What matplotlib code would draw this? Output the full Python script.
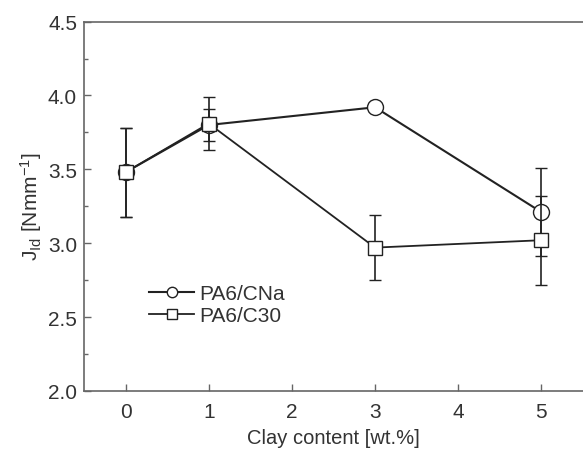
import matplotlib
matplotlib.use('Agg')
import matplotlib.pyplot as plt
from matplotlib.ticker import MultipleLocator

plt.rcParams['font.family'] = ['Liberation Sans', 'DejaVu Sans']
plt.rcParams['mathtext.fontset'] = 'custom'
plt.rcParams['mathtext.rm'] = 'Liberation Sans'
plt.rcParams['mathtext.it'] = 'Liberation Sans'

# data
clay = [0, 1, 3, 5]
cna_mean = [3.48, 3.80, 3.92, 3.21]
cna_err = [0.30, 0.11, 0.0, 0.30]
c30_mean = [3.48, 3.81, 2.97, 3.02]
c30_err = [0.30, 0.18, 0.22, 0.30]

text_col = '#333333'
line_col = '#222222'
spine_col = '#666666'

fig = plt.figure(figsize=(5.83, 4.52), dpi=100)
ax = fig.add_axes([0.144, 0.133, 0.856, 0.817])

ax.errorbar(clay, cna_mean, yerr=cna_err, color=line_col, lw=1.5, marker='o', ms=11.5,
            mfc='white', mec=line_col, mew=1.0, capsize=4, elinewidth=1.2, capthick=1.2,
            label='PA6/CNa', zorder=3)
ax.errorbar(clay, c30_mean, yerr=c30_err, color=line_col, lw=1.3, marker='s', ms=10,
            mfc='white', mec=line_col, mew=1.0, capsize=4, elinewidth=1.2, capthick=1.2,
            label='PA6/C30', zorder=4)

ax.set_xlim(-0.5, 5.5)
ax.set_ylim(2.0, 4.5)
ax.xaxis.set_major_locator(MultipleLocator(1))
ax.yaxis.set_major_locator(MultipleLocator(0.5))
ax.yaxis.set_minor_locator(MultipleLocator(0.25))
ax.yaxis.set_major_formatter(plt.FormatStrFormatter('%.1f'))
ax.tick_params(direction='in', which='both', labelsize=15, colors=spine_col,
               labelcolor=text_col, width=1.0)
ax.tick_params(which='major', length=5)
ax.tick_params(which='minor', length=3)
ax.tick_params(axis='y', pad=5)
ax.tick_params(axis='x', pad=8)

for side in ['left', 'bottom', 'top']:
    ax.spines[side].set_color(spine_col)
    ax.spines[side].set_linewidth(1.2)
ax.spines['right'].set_visible(False)

ax.set_xlabel('Clay content [wt.%]', fontsize=14.5, color=text_col, labelpad=5)
ax.set_ylabel(r'J$_{\mathrm{Id}}$ [Nmm$^{-1}$]', fontsize=15, color=text_col, labelpad=3)

handles, labels = ax.get_legend_handles_labels()
handles = [h[0] for h in handles]
leg = ax.legend(handles, labels, loc='upper left', bbox_to_anchor=(0.092, 0.34),
                frameon=False, fontsize=15, handlelength=2.2, handletextpad=0.25,
                labelspacing=0.15, markerscale=0.65)
for t in leg.get_texts():
    t.set_color(text_col)

fig.savefig('out.png', dpi=100)
